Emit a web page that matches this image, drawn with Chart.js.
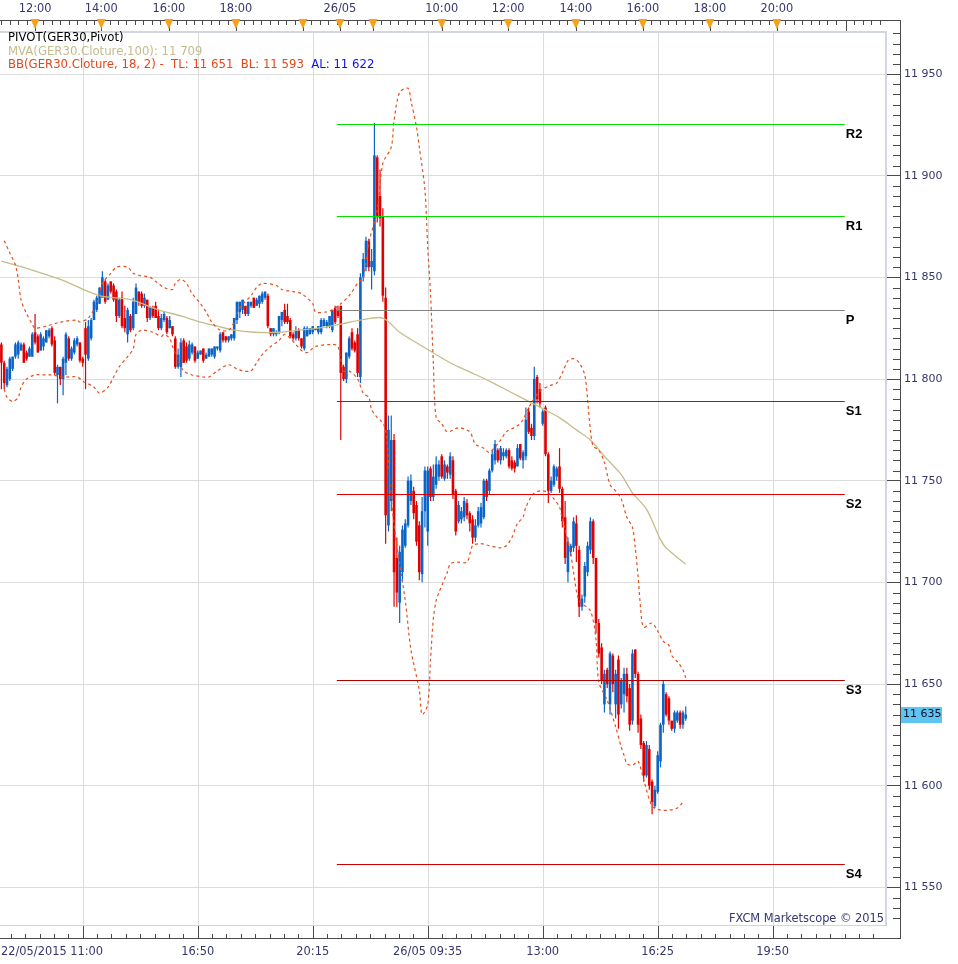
<!DOCTYPE html>
<html>
<head>
<meta charset="utf-8">
<script src="https://cdn.jsdelivr.net/npm/chart.js@4.4.1/dist/chart.umd.min.js"></script>
<style>
  html, body { margin: 0; padding: 0; background: #fff; }
  canvas { display: block; }
</style>
</head>
<body>
<canvas id="grafico" width="958" height="964"></canvas>
<script>
// GER30, 5 minute bars (bar number = position on the x axis)
const opens = [
  11817,11808,11797,11800,11805,11811,11812,11814,11817,11813,11811,11811,11823,11821,11814,11816,11818,11821,11825,11819,
  11802,11806,11800,11808,11820,11810,11813,11817,11818,11810,11825,11810,11820,11829,11834,11837,11840,11848,11839,11848,
  11846,11843,11831,11840,11830,11822,11831,11825,11832,11843,11842,11836,11839,11830,11835,11836,11831,11825,11829,11830,
  11825,11826,11820,11806,11806,11819,11816,11810,11813,11816,11810,11812,11815,11810,11811,11812,11811,11815,11814,11823,
  11821,11819,11820,11820,11829,11833,11834,11836,11832,11836,11840,11836,11837,11838,11840,11841,11825,11822,11822,11823,
  11829,11834,11831,11829,11822,11820,11824,11820,11815,11821,11822,11823,11824,11823,11823,11826,11826,11826,11824,11835,
  11834,11836,11806,11800,11811,11823,11818,11822,11801,11850,11855,11868,11855,11853,11909,11890,11880,11840,11728,11740,
  11770,11712,11690,11705,11718,11728,11740,11745,11738,11728,11704,11735,11725,11756,11742,11748,11752,11762,11751,11757,
  11753,11760,11745,11730,11731,11732,11739,11734,11731,11722,11728,11729,11732,11750,11745,11755,11760,11765,11760,11762,
  11762,11765,11760,11759,11757,11768,11760,11762,11784,11776,11772,11801,11795,11778,11786,11763,11745,11748,11752,11757,
  11746,11732,11705,11715,11717,11729,11716,11688,11693,11705,11716,11730,11712,11680,11668,11640,11657,11640,11664,11640,
  11662,11640,11645,11655,11648,11632,11667,11655,11633,11621,11605,11618,11602,11590,11597,11612,11630,11645,11643,11632,
  11628,11632,11636,11630,11633
];
const highs = [
  11818,11809,11806,11811,11811,11818,11819,11818,11818,11814,11816,11823,11832,11822,11823,11821,11824,11825,11826,11821,
  11807,11806,11811,11823,11821,11816,11820,11821,11818,11811,11828,11829,11830,11839,11841,11845,11853,11849,11847,11848,
  11847,11844,11840,11843,11836,11835,11832,11840,11847,11843,11843,11842,11839,11836,11836,11838,11834,11832,11833,11831,
  11831,11826,11821,11815,11820,11820,11818,11819,11818,11816,11814,11814,11815,11813,11815,11815,11816,11816,11823,11823,
  11821,11821,11822,11830,11838,11838,11839,11836,11838,11838,11840,11840,11841,11843,11843,11842,11825,11825,11824,11831,
  11833,11837,11837,11830,11823,11826,11825,11820,11826,11826,11825,11826,11825,11826,11830,11830,11829,11831,11834,11836,
  11836,11836,11807,11813,11821,11825,11819,11825,11852,11862,11870,11869,11864,11926,11910,11903,11884,11845,11782,11782,
  11773,11722,11718,11728,11731,11752,11753,11747,11740,11730,11742,11757,11757,11757,11758,11762,11760,11763,11760,11758,
  11764,11762,11746,11740,11737,11742,11741,11735,11733,11731,11737,11739,11751,11751,11756,11765,11770,11766,11767,11766,
  11766,11766,11762,11760,11768,11768,11765,11786,11786,11778,11806,11802,11798,11785,11787,11764,11752,11758,11757,11766,
  11747,11740,11722,11719,11732,11733,11718,11694,11710,11720,11732,11731,11712,11682,11670,11657,11658,11666,11665,11657,
  11664,11653,11658,11658,11650,11667,11667,11656,11635,11622,11622,11620,11603,11600,11617,11631,11652,11646,11644,11632,
  11637,11637,11637,11637,11639
];
const lows = [
  11795,11795,11796,11799,11804,11810,11810,11814,11808,11809,11811,11811,11817,11813,11814,11814,11818,11820,11816,11802,
  11788,11797,11792,11802,11809,11809,11812,11816,11808,11806,11795,11809,11819,11829,11833,11837,11840,11837,11839,11842,
  11838,11828,11830,11825,11823,11818,11823,11824,11832,11836,11835,11835,11828,11829,11830,11830,11824,11824,11828,11822,
  11825,11821,11805,11805,11801,11808,11808,11809,11812,11808,11810,11812,11808,11810,11811,11811,11810,11814,11813,11818,
  11818,11818,11819,11819,11827,11830,11832,11831,11831,11835,11835,11836,11835,11837,11839,11825,11821,11821,11821,11822,
  11826,11827,11827,11820,11819,11819,11819,11815,11814,11821,11822,11822,11824,11822,11822,11826,11825,11825,11823,11827,
  11830,11770,11799,11798,11810,11814,11813,11801,11798,11848,11853,11853,11844,11851,11877,11875,11838,11719,11725,11735,
  11688,11688,11680,11700,11717,11727,11738,11731,11718,11701,11700,11727,11718,11740,11740,11746,11750,11751,11750,11751,
  11751,11741,11723,11729,11729,11730,11731,11725,11719,11720,11727,11727,11731,11740,11743,11754,11758,11759,11758,11760,
  11761,11756,11755,11754,11757,11760,11756,11760,11773,11770,11770,11788,11786,11777,11762,11739,11744,11747,11750,11744,
  11727,11709,11700,11713,11715,11710,11683,11686,11690,11703,11714,11709,11675,11663,11650,11636,11648,11635,11646,11633,
  11628,11638,11636,11641,11627,11630,11653,11626,11618,11602,11604,11598,11586,11589,11596,11609,11626,11634,11630,11627,
  11626,11631,11628,11628,11632
];
const closes = [
  11808,11798,11805,11810,11811,11817,11818,11817,11808,11810,11815,11822,11818,11813,11822,11820,11824,11824,11817,11803,
  11806,11800,11810,11822,11810,11815,11819,11820,11809,11808,11812,11826,11829,11838,11840,11845,11850,11838,11846,11843,
  11839,11831,11839,11826,11825,11834,11824,11838,11845,11838,11836,11840,11830,11835,11831,11830,11825,11830,11832,11823,
  11829,11822,11806,11812,11818,11808,11809,11817,11817,11809,11813,11814,11809,11812,11815,11815,11816,11816,11822,11819,
  11819,11821,11822,11830,11838,11838,11839,11832,11838,11838,11835,11839,11841,11842,11843,11826,11822,11825,11823,11831,
  11833,11828,11828,11821,11820,11824,11820,11816,11825,11825,11825,11826,11825,11826,11829,11829,11828,11831,11834,11828,
  11831,11803,11800,11813,11820,11815,11814,11803,11850,11859,11868,11855,11858,11910,11880,11879,11841,11733,11775,11770,
  11705,11695,11715,11726,11729,11750,11750,11734,11720,11705,11735,11755,11755,11742,11752,11758,11758,11752,11758,11754,
  11762,11743,11725,11738,11735,11740,11733,11729,11722,11728,11735,11737,11750,11742,11755,11763,11768,11760,11766,11764,
  11765,11757,11756,11756,11766,11761,11764,11780,11774,11772,11800,11790,11788,11784,11763,11745,11750,11757,11756,11746,
  11730,11712,11720,11718,11730,11718,11688,11692,11708,11718,11730,11712,11680,11665,11652,11655,11650,11665,11650,11655,
  11635,11652,11655,11644,11630,11665,11655,11630,11620,11605,11620,11600,11592,11598,11615,11630,11650,11635,11632,11628,
  11636,11636,11630,11636,11635
];

// MVA(100) and Bollinger bands, [bar, value]
const mva = [[0,11858],[10,11854],[21,11849],[35,11841],[46,11839],[56,11834],[64,11831],[71,11828],[77,11826],[83,11824],
  [90,11823],[99,11823],[106,11824],[113,11825],[121,11827],[128,11829],[136,11830],[142,11823],[149,11817],[160,11808],
  [167,11803.5],[174,11799],[181,11794],[188,11789],[195,11784],[199,11781],[205,11775],[210,11770],[215,11762],[221,11753],
  [225,11744],[230,11736],[235,11721],[237,11717],[243,11710],[244,11709]];
const bandaSup = [[1,11868],[3,11862],[5,11856],[6,11849],[7,11839],[9,11832],[11,11827],[12,11825],[16,11826],[21,11828],
  [27,11829],[28,11828],[31,11830],[34,11837],[36,11847],[39,11852],[41,11855],[45,11855],[47,11852],[49,11851],
  [53,11850],[55,11848],[58,11845],[61,11844],[62,11847],[64,11849],[66,11847],[68,11842],[71,11837],[73,11833],
  [75,11828],[78,11824],[81,11824],[83,11828],[85,11835],[89,11841],[91,11845],[93,11847],[98,11846],[100,11844],
  [104,11843],[107,11842],[111,11837],[112,11833],[116,11833],[118,11834],[121,11837],[124,11841],[127,11847],[129,11850],
  [131,11867],[134,11883],[136,11906],[139,11914],[140,11927],[142,11941],[145,11943],[146,11937],[148,11924],[149,11914],
  [151,11893],[152,11865],[153,11842],[154,11808],[155,11781],[157,11778],[159,11774],[163,11776],[167,11774],[169,11768],
  [172,11766],[174,11764],[178,11770],[180,11774],[184,11777],[186,11780],[188,11786],[192,11794],[196,11797],[198,11798],
  [200,11803],[202,11809],[204,11810],[206,11808],[208,11802],[209,11790],[210,11775],[211,11767],[213,11765],[215,11759],
  [217,11748],[219,11745],[221,11741],[223,11732],[225,11727],[226,11717],[227,11703],[228,11686],[229,11678],[232,11680],
  [234,11676],[236,11671],[238,11669],[239,11664],[241,11661],[243,11657],[244,11653]];
const bandaInf = [[1,11795],[2,11791],[4,11789],[6,11791],[7,11796],[9,11800],[12,11802],[16,11802],[18,11802],[22,11801],
  [27,11801],[29,11799],[33,11796],[35,11793],[38,11796],[40,11801],[42,11806],[45,11811],[47,11815],[48,11822],
  [50,11824],[54,11823],[57,11821],[58,11822],[60,11820],[61,11816],[63,11809],[65,11804],[68,11802],[72,11801],
  [74,11801],[77,11804],[81,11807],[84,11805],[86,11804],[89,11804],[91,11808],[93,11812],[96,11816],[99,11819],
  [101,11822],[103,11820],[105,11817],[107,11814],[109,11813],[112,11816],[118,11817],[120,11816],[122,11804],[124,11804],
  [127,11800],[129,11793],[131,11791],[132,11785],[134,11781],[135,11780],[137,11775],[139,11741],[141,11718],[144,11691],
  [146,11667],[149,11647],[150,11635],[152,11640],[153,11662],[154,11682],[155,11691],[156,11695],[159,11705],[160,11709],
  [162,11710],[166,11710],[168,11718],[171,11719],[174,11718],[178,11717],[180,11718],[182,11722],[184,11729],[186,11732],
  [187,11737],[190,11744],[193,11745],[195,11744],[197,11741],[199,11737],[200,11731],[201,11726],[203,11714],[204,11705],
  [206,11691],[210,11686],[212,11672],[213,11651],[216,11642],[219,11629],[221,11619],[222,11615],[223,11611],[225,11610],
  [227,11612],[229,11603],[232,11590],[235,11588],[238,11588],[241,11589],[243,11592]];

// Pivot levels of 26/05
const pivotNombres = ['R2', 'R1', 'P', 'S1', 'S2', 'S3', 'S4'];
const pivotValores = [11925.17, 11879.92, 11833.7, 11788.94, 11743.2, 11651.73, 11561.24];
const pivotColores = ['#00e000', '#00e000', '#808080', '#e00000', '#e00000', '#b00000', '#d00000'];
const pivotDesde = 119.6, pivotHasta = 300.7;

// Time axes
const marcasArriba = [12, 35.6, 59.7, 83.6, 107.5, 120.7, 132.5, 157, 180.7, 204.8, 228.7, 252.6, 276.5];
const textosArriba = ['12:00', '14:00', '16:00', '18:00', '', '26/05', '', '10:00', '12:00', '14:00', '16:00', '18:00', '20:00'];
const marcasAbajo = [29, 70, 111, 152, 193, 234, 275];
const textosAbajo = ['22/05/2015 11:00', '16:50', '20:15', '26/05 09:35', '13:00', '16:25', '19:50'];

const fmt = v => Math.round(v).toString().replace(/\B(?=(\d{3})+(?!\d))/g, ' ');
const FUENTE = '11.4px "DejaVu Sans"';
const AZUL = '#0a64c8', ROJO = '#e00000';

const colores = closes.map((c, i) => c >= opens[i] ? AZUL : ROJO);
const xy = pares => pares.map(p => ({ x: p[0], y: p[1] }));

const datasets = [];

// Pivot lines (lowest order = drawn on top)
pivotNombres.forEach((n, k) => {
    datasets.push({
        type: 'line', label: n, order: 0,
        data: [{ x: pivotDesde, y: pivotValores[k] }, { x: pivotHasta, y: pivotValores[k] }],
        borderColor: pivotColores[k], borderWidth: 1, pointRadius: 0
    });
});

// Bollinger + MVA
[bandaSup, bandaInf].forEach(b => datasets.push({
    type: 'line', order: 1, data: xy(b),
    borderColor: '#e4501c', borderWidth: 1.2, borderDash: [3, 3], pointRadius: 0, tension: 0.3
}));
datasets.push({
    type: 'line', order: 2, data: xy(mva),
    borderColor: '#c5bd8a', borderWidth: 1.3, pointRadius: 0, tension: 0.3
});

// Candles: body and wick
datasets.push({
    type: 'bar', order: 3, grouped: false,
    data: opens.map((o, i) => ({ x: i, y: [o, closes[i]] })),
    backgroundColor: colores, maxBarThickness: 2.6, barPercentage: 1, categoryPercentage: 1,
    inflateAmount: 0, minBarLength: 1
});
datasets.push({
    type: 'bar', order: 4, grouped: false,
    data: lows.map((l, i) => ({ x: i, y: [l, highs[i]] })),
    backgroundColor: colores, maxBarThickness: 1.2, inflateAmount: 0
});

function linea(ctx, x1, y1, x2, y2) {
    ctx.beginPath();
    ctx.moveTo(x1, y1);
    ctx.lineTo(x2, y2);
    ctx.stroke();
}

const marketscope = {
    id: 'marketscope',
    beforeDatasetsDraw(chart) {
        const { ctx, chartArea: a, scales: { x } } = chart;
        ctx.save();
        ctx.strokeStyle = '#dcdcdc';
        ctx.lineWidth = 1;
        marcasAbajo.forEach(m => {
            const px = Math.round(x.getPixelForValue(m)) + 0.5;
            linea(ctx, px, a.top, px, a.bottom);
        });
        ctx.restore();
    },
    afterDraw(chart) {
        const { ctx, chartArea: a, scales: { x, y } } = chart;
        const px = v => Math.round(x.getPixelForValue(v)) + 0.5;
        const py = v => Math.round(y.getPixelForValue(v)) + 0.5;
        ctx.save();

        // plot frame
        ctx.fillStyle = '#d2d6de';
        ctx.fillRect(0, a.top, a.right + 1, 2);
        ctx.fillRect(0, a.bottom - 1, a.right + 1, 1);
        ctx.fillRect(a.right - 1, a.top, 2, a.bottom - a.top);

        // axis lines
        ctx.strokeStyle = '#4a4a4a';
        ctx.lineWidth = 1;
        linea(ctx, 0, 20.5, 901, 20.5);
        linea(ctx, 900.5, 20, 900.5, 939);
        linea(ctx, 0, 938.5, 901, 938.5);

        // right axis minor ticks (every 5 points)
        for (let v = 11535; v < y.max; v += 5) {
            if (v % 50 === 0) continue;
            linea(ctx, 893, py(v), 900, py(v));
        }

        // top axis ticks
        const arriba = marcasArriba.concat([301.1]);
        arriba.forEach((m, k) => {
            linea(ctx, px(m), 20, px(m), 31);
            const sig = k + 1 < arriba.length ? arriba[k + 1] : x.max;
            for (let t = m + 3; t < sig - 1; t += 3) linea(ctx, px(t), 20, px(t), 25);
        });
        for (let t = marcasArriba[0] - 3; t >= 0; t -= 3) linea(ctx, px(t), 20, px(t), 25);

        // bottom axis ticks
        const paso = 41 / 8;
        for (let t = marcasAbajo[0] - paso * 5; t < x.max; t += paso) {
            const r = (t - marcasAbajo[0]) / 41;
            const mayor = Math.abs(r - Math.round(r)) < 0.01;
            linea(ctx, px(t), mayor ? 926 : 934, px(t), 938);
        }

        // event triangles
        ctx.fillStyle = '#f6a11c';
        marcasArriba.forEach(m => {
            const cx = x.getPixelForValue(m);
            ctx.beginPath();
            ctx.moveTo(cx - 4.5, 19);
            ctx.lineTo(cx + 4.5, 19);
            ctx.lineTo(cx, 29);
            ctx.closePath();
            ctx.fill();
        });

        // time labels
        ctx.font = FUENTE;
        ctx.fillStyle = '#36366e';
        ctx.textBaseline = 'middle';
        ctx.textAlign = 'center';
        marcasArriba.forEach((m, k) => {
            if (textosArriba[k]) ctx.fillText(textosArriba[k], x.getPixelForValue(m), 9);
        });
        marcasAbajo.forEach((m, k) => {
            if (k === 0) {
                ctx.textAlign = 'left';
                ctx.fillText(textosAbajo[k], 1, 952);
                ctx.textAlign = 'center';
            } else {
                ctx.fillText(textosAbajo[k], x.getPixelForValue(m), 952);
            }
        });

        // watermark
        ctx.textAlign = 'right';
        ctx.fillText('FXCM Marketscope \u00a9 2015', 884, 919);

        // pivot names
        ctx.font = 'bold 13px "Liberation Sans"';
        ctx.fillStyle = '#000';
        ctx.textAlign = 'left';
        ctx.textBaseline = 'top';
        pivotNombres.forEach((n, k) => {
            ctx.fillText(n, x.getPixelForValue(pivotHasta) + 1, y.getPixelForValue(pivotValores[k]) + 3);
        });

        // indicator legend
        ctx.font = '11.7px "DejaVu Sans"';
        ctx.textBaseline = 'middle';
        ctx.fillStyle = '#000';
        ctx.fillText('PIVOT(GER30,Pivot)', 8, 38);
        ctx.fillStyle = '#c4bc8c';
        ctx.fillText('MVA(GER30.Cloture,100): ' + fmt(mva[mva.length - 1][1]), 8, 51.5);
        const bb = 'BB(GER30.Cloture, 18, 2) -  TL: ' + fmt(bandaSup[bandaSup.length - 1][1] - 2) +
            '  BL: ' + fmt(bandaInf[bandaInf.length - 1][1] + 1) + '  ';
        ctx.fillStyle = '#e4481a';
        ctx.fillText(bb, 8, 64.5);
        ctx.fillStyle = '#1010f0';
        ctx.fillText('AL: 11 622', 8 + ctx.measureText(bb).width, 64.5);

        // last price tag
        const ult = closes[closes.length - 1];
        const yp = y.getPixelForValue(ult);
        ctx.font = '11px "DejaVu Sans"';
        ctx.fillStyle = '#5ec4f0';
        ctx.fillRect(901, Math.round(yp) - 8, 41, 16);
        ctx.fillStyle = '#10102a';
        ctx.fillText(fmt(ult), 903, yp);

        ctx.restore();
    }
};

new Chart(document.getElementById('grafico'), {
    data: { datasets: datasets },
    options: {
        responsive: false,
        animation: false,
        devicePixelRatio: 1,
        layout: { padding: { top: 31, bottom: 38, left: 0, right: 0 } },
        plugins: { legend: { display: false }, tooltip: { enabled: false } },
        scales: {
            x: {
                type: 'linear', min: -0.5, max: 315.4, offset: false,
                display: false, grid: { offset: false }
            },
            y: {
                position: 'right', min: 11531, max: 11971.15,
                afterFit: s => { s.width = 72; },
                border: { display: false },
                grid: {
                    color: c => c.tick && c.tick.value % 50 === 0 ? '#dcdcdc' : 'rgba(0,0,0,0)',
                    tickColor: c => c.tick && c.tick.value % 50 === 0 ? '#4a4a4a' : 'rgba(0,0,0,0)',
                    tickLength: 14
                },
                ticks: {
                    stepSize: 50, padding: 4, color: '#36366e',
                    font: { family: 'DejaVu Sans', size: 11 },
                    callback: v => v % 50 === 0 ? fmt(v) : ''
                }
            }
        }
    },
    plugins: [marketscope]
});
</script>
</body>
</html>
